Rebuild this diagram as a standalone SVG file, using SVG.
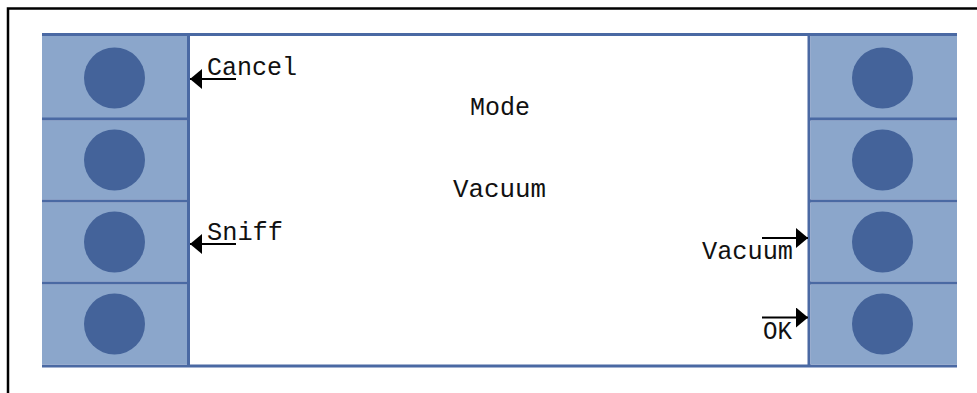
<svg xmlns="http://www.w3.org/2000/svg" width="977" height="393" viewBox="0 0 977 393">
  <style>
    .frame { fill: none; stroke: #000; stroke-width: 2.5; }
    .btn { fill: #8BA6CB; }
    .knob { fill: #44639A; }
    .rule { stroke: #4A69A3; stroke-width: 3; fill: none; }
    .lbl { font-family: "Liberation Mono", "DejaVu Sans Mono", monospace; font-size: 25px; fill: #111; }
    .arrow { stroke: #000; stroke-width: 2; fill: none; marker-end: url(#head); }
  </style>
  <defs>
    <marker id="head" markerUnits="userSpaceOnUse" markerWidth="12" markerHeight="20" refX="12" refY="10" orient="auto">
      <path d="M0,0 L12,10 L0,20 Z" fill="#000"/>
    </marker>
  </defs>
  <rect width="977" height="393" fill="#fff"/>
  <path class="frame" d="M8,393 V8.5 H977"/>

  <g id="screen">
    <rect x="189" y="35" width="620" height="331" fill="#fff"/>
    <line class="rule" x1="42" y1="34.5" x2="957" y2="34.5"/>
    <line class="rule" x1="42" y1="366" x2="957" y2="366"/>
    <line class="rule" x1="188.5" y1="34" x2="188.5" y2="367"/>
    <line class="rule" x1="809" y1="34" x2="809" y2="367"/>
    <text class="lbl" x="470" y="115" textLength="60" lengthAdjust="spacingAndGlyphs">Mode</text>
    <text class="lbl" x="453" y="197" textLength="93" lengthAdjust="spacingAndGlyphs">Vacuum</text>
  </g>

  <g id="left-buttons">
    <g id="btn-l1"><rect class="btn" x="42" y="36" width="145" height="82"/><circle class="knob" cx="114.5" cy="78" r="30.5"/></g>
    <g id="btn-l2"><rect class="btn" x="42" y="120.5" width="145" height="79"/><circle class="knob" cx="114.5" cy="160" r="30.5"/></g>
    <g id="btn-l3"><rect class="btn" x="42" y="202.5" width="145" height="79"/><circle class="knob" cx="114.5" cy="242" r="30.5"/></g>
    <g id="btn-l4"><rect class="btn" x="42" y="284.5" width="145" height="80"/><circle class="knob" cx="114.5" cy="324" r="30.5"/></g>
    <line class="rule" x1="42" y1="119" x2="188" y2="119"/>
    <line class="rule" x1="42" y1="201" x2="188" y2="201"/>
    <line class="rule" x1="42" y1="283" x2="188" y2="283"/>
  </g>

  <g id="right-buttons">
    <g id="btn-r1"><rect class="btn" x="810.5" y="36" width="146.5" height="82"/><circle class="knob" cx="882.5" cy="78" r="30.5"/></g>
    <g id="btn-r2"><rect class="btn" x="810.5" y="120.5" width="146.5" height="79"/><circle class="knob" cx="882.5" cy="160" r="30.5"/></g>
    <g id="btn-r3"><rect class="btn" x="810.5" y="202.5" width="146.5" height="79"/><circle class="knob" cx="882.5" cy="242" r="30.5"/></g>
    <g id="btn-r4"><rect class="btn" x="810.5" y="284.5" width="146.5" height="80"/><circle class="knob" cx="882.5" cy="324" r="30.5"/></g>
    <line class="rule" x1="810" y1="119" x2="957" y2="119"/>
    <line class="rule" x1="810" y1="201" x2="957" y2="201"/>
    <line class="rule" x1="810" y1="283" x2="957" y2="283"/>
  </g>

  <g id="label-cancel"><text class="lbl" x="207" y="75" textLength="90" lengthAdjust="spacingAndGlyphs">Cancel</text></g>
  <g id="label-sniff"><text class="lbl" x="207" y="240" textLength="76" lengthAdjust="spacingAndGlyphs">Sniff</text></g>
  <g id="label-vacuum"><text class="lbl" x="702" y="259" textLength="91" lengthAdjust="spacingAndGlyphs">Vacuum</text></g>
  <g id="label-ok"><text class="lbl" x="763" y="339" textLength="29" lengthAdjust="spacingAndGlyphs">OK</text></g>

  <g id="connectors">
    <line class="arrow" x1="236" y1="79" x2="190" y2="79"/>
    <line class="arrow" x1="236" y1="244" x2="190" y2="244"/>
    <line class="arrow" x1="762" y1="238" x2="808" y2="238"/>
    <line class="arrow" x1="762" y1="317.5" x2="808" y2="317.5"/>
  </g>
</svg>
